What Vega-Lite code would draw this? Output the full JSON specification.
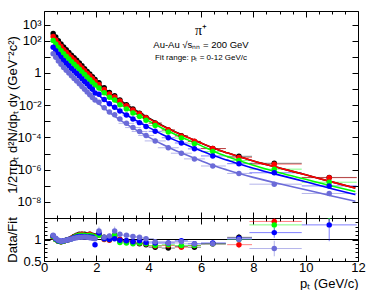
{
"$schema": "https://vega.github.io/schema/vega-lite/v6.json",
"padding": {"left": 6, "top": 10, "right": 14, "bottom": 0},
"spacing": 0,
"bounds": "flush",
"config": {
  "font": "Liberation Sans",
  "view": {"stroke": "#000", "strokeWidth": 1},
  "axis": {"domain": false, "grid": false, "tickColor": "#000", "labelColor": "#000", "titleColor": "#000", "labelFontSize": 13, "titleFontSize": 13, "titleFontWeight": "normal", "labelFont": "Liberation Sans", "titleFont": "Liberation Sans", "tickWidth": 1, "labelFlush": false, "labelOverlap": false}
},
"resolve": {"scale": {"x": "independent", "y": "independent", "color": "independent"}},
"datasets": {
"pts": [
{"s":"c1","pt":0.35,"y":279,"xlo":0.3,"xhi":0.4,"r":1.06,"rlo":1.04,"rhi":1.08},
{"s":"c1","pt":0.45,"y":166,"xlo":0.4,"xhi":0.5,"r":1.0,"rlo":0.98,"rhi":1.02},
{"s":"c1","pt":0.55,"y":100,"xlo":0.5,"xhi":0.6,"r":0.96,"rlo":0.94,"rhi":0.98},
{"s":"c1","pt":0.65,"y":62.8,"xlo":0.6,"xhi":0.7,"r":0.95,"rlo":0.93,"rhi":0.97},
{"s":"c1","pt":0.75,"y":40.0,"xlo":0.7,"xhi":0.8,"r":0.96,"rlo":0.94,"rhi":0.98},
{"s":"c1","pt":0.85,"y":27.0,"xlo":0.8,"xhi":0.9,"r":0.98,"rlo":0.96,"rhi":1.0},
{"s":"c1","pt":0.95,"y":18.2,"xlo":0.9,"xhi":1.0,"r":1.0,"rlo":0.98,"rhi":1.02},
{"s":"c1","pt":1.05,"y":12.5,"xlo":1.0,"xhi":1.1,"r":1.03,"rlo":1.01,"rhi":1.05},
{"s":"c1","pt":1.15,"y":8.74,"xlo":1.1,"xhi":1.2,"r":1.07,"rlo":1.05,"rhi":1.09},
{"s":"c1","pt":1.25,"y":6.04,"xlo":1.2,"xhi":1.3,"r":1.1,"rlo":1.08,"rhi":1.12},
{"s":"c1","pt":1.35,"y":4.10,"xlo":1.3,"xhi":1.4,"r":1.12,"rlo":1.1,"rhi":1.14},
{"s":"c1","pt":1.45,"y":2.74,"xlo":1.4,"xhi":1.5,"r":1.12,"rlo":1.1,"rhi":1.14},
{"s":"c1","pt":1.55,"y":1.84,"xlo":1.5,"xhi":1.6,"r":1.12,"rlo":1.1,"rhi":1.14},
{"s":"c1","pt":1.65,"y":1.23,"xlo":1.6,"xhi":1.7,"r":1.1,"rlo":1.08,"rhi":1.12},
{"s":"c1","pt":1.75,"y":0.849,"xlo":1.7,"xhi":1.8,"r":1.12,"rlo":1.1,"rhi":1.14},
{"s":"c1","pt":1.85,"y":0.577,"xlo":1.8,"xhi":1.9,"r":1.1,"rlo":1.08,"rhi":1.12},
{"s":"c1","pt":1.95,"y":0.392,"xlo":1.9,"xhi":2.0,"r":1.08,"rlo":1.06,"rhi":1.1},
{"s":"c1","pt":2.1,"y":0.245,"xlo":2.0,"xhi":2.2,"r":1.12,"rlo":1.08,"rhi":1.16},
{"s":"c1","pt":2.3,"y":0.120,"xlo":2.2,"xhi":2.4,"r":1.05,"rlo":1.01,"rhi":1.09},
{"s":"c1","pt":2.5,"y":0.0603,"xlo":2.4,"xhi":2.6,"r":1.0,"rlo":0.96,"rhi":1.04},
{"s":"c1","pt":2.7,"y":0.0388,"xlo":2.6,"xhi":2.8,"r":1.1,"rlo":1.06,"rhi":1.14},
{"s":"c1","pt":2.9,"y":0.0207,"xlo":2.8,"xhi":3.0,"r":1.0,"rlo":0.96,"rhi":1.04},
{"s":"c1","pt":3.15,"y":0.01074,"xlo":3.0,"xhi":3.3,"r":0.97,"rlo":0.94,"rhi":1.0},
{"s":"c1","pt":3.4,"y":0.00578,"xlo":3.3,"xhi":3.5,"r":0.95,"rlo":0.92,"rhi":0.98},
{"s":"c1","pt":3.65,"y":0.00309,"xlo":3.5,"xhi":3.8,"r":0.9,"rlo":0.87,"rhi":0.93},
{"s":"c1","pt":3.9,"y":0.00174,"xlo":3.8,"xhi":4.0,"r":0.88,"rlo":0.85,"rhi":0.91},
{"s":"c1","pt":4.25,"y":7.74e-4,"xlo":4.0,"xhi":4.5,"r":0.82,"rlo":0.79,"rhi":0.85},
{"s":"c1","pt":4.75,"y":2.84e-4,"xlo":4.5,"xhi":5.0,"r":0.8,"rlo":0.77,"rhi":0.83},
{"s":"c1","pt":5.25,"y":1.26e-4,"xlo":5.0,"xhi":5.5,"r":0.84,"rlo":0.81,"rhi":0.87},
{"s":"c1","pt":5.75,"y":5.48e-5,"xlo":5.5,"xhi":6.0,"r":0.82,"rlo":0.79,"rhi":0.85},
{"s":"c1","pt":6.45,"y":2.03e-5,"xlo":6.0,"xhi":6.95,"r":0.9,"rlo":0.85,"rhi":0.95},
{"s":"c1","pt":7.45,"y":6.71e-6,"xlo":7.0,"xhi":7.95,"r":1.05,"rlo":0.97,"rhi":1.13},
{"s":"c1","pt":8.8,"y":2.47e-6,"xlo":7.85,"xhi":9.85,"r":1.6,"rlo":1.48,"rhi":1.72},
{"s":"c1","pt":10.9,"y":3.27e-7,"xlo":9.85,"xhi":11.95,"r":1.7,"rlo":1.45,"rhi":1.95},
{"s":"c2","pt":0.35,"y":184,"xlo":0.3,"xhi":0.4,"r":1.06,"rlo":1.04,"rhi":1.08},
{"s":"c2","pt":0.45,"y":111,"xlo":0.4,"xhi":0.5,"r":1.0,"rlo":0.98,"rhi":1.02},
{"s":"c2","pt":0.55,"y":67.8,"xlo":0.5,"xhi":0.6,"r":0.96,"rlo":0.94,"rhi":0.98},
{"s":"c2","pt":0.65,"y":42.9,"xlo":0.6,"xhi":0.7,"r":0.95,"rlo":0.93,"rhi":0.97},
{"s":"c2","pt":0.75,"y":27.5,"xlo":0.7,"xhi":0.8,"r":0.96,"rlo":0.94,"rhi":0.98},
{"s":"c2","pt":0.85,"y":18.8,"xlo":0.8,"xhi":0.9,"r":0.98,"rlo":0.96,"rhi":1.0},
{"s":"c2","pt":0.95,"y":12.8,"xlo":0.9,"xhi":1.0,"r":1.0,"rlo":0.98,"rhi":1.02},
{"s":"c2","pt":1.05,"y":8.89,"xlo":1.0,"xhi":1.1,"r":1.03,"rlo":1.01,"rhi":1.05},
{"s":"c2","pt":1.15,"y":6.22,"xlo":1.1,"xhi":1.2,"r":1.06,"rlo":1.04,"rhi":1.08},
{"s":"c2","pt":1.25,"y":4.36,"xlo":1.2,"xhi":1.3,"r":1.09,"rlo":1.07,"rhi":1.11},
{"s":"c2","pt":1.35,"y":2.99,"xlo":1.3,"xhi":1.4,"r":1.11,"rlo":1.09,"rhi":1.13},
{"s":"c2","pt":1.45,"y":2.04,"xlo":1.4,"xhi":1.5,"r":1.12,"rlo":1.1,"rhi":1.14},
{"s":"c2","pt":1.55,"y":1.36,"xlo":1.5,"xhi":1.6,"r":1.1,"rlo":1.08,"rhi":1.12},
{"s":"c2","pt":1.65,"y":0.935,"xlo":1.6,"xhi":1.7,"r":1.1,"rlo":1.08,"rhi":1.12},
{"s":"c2","pt":1.75,"y":0.655,"xlo":1.7,"xhi":1.8,"r":1.12,"rlo":1.1,"rhi":1.14},
{"s":"c2","pt":1.85,"y":0.446,"xlo":1.8,"xhi":1.9,"r":1.09,"rlo":1.07,"rhi":1.11},
{"s":"c2","pt":1.95,"y":0.306,"xlo":1.9,"xhi":2.0,"r":1.07,"rlo":1.05,"rhi":1.09},
{"s":"c2","pt":2.1,"y":0.193,"xlo":2.0,"xhi":2.2,"r":1.1,"rlo":1.06,"rhi":1.14},
{"s":"c2","pt":2.3,"y":0.0938,"xlo":2.2,"xhi":2.4,"r":1.0,"rlo":0.96,"rhi":1.04},
{"s":"c2","pt":2.5,"y":0.0491,"xlo":2.4,"xhi":2.6,"r":0.98,"rlo":0.94,"rhi":1.02},
{"s":"c2","pt":2.7,"y":0.0323,"xlo":2.6,"xhi":2.8,"r":1.08,"rlo":1.04,"rhi":1.12},
{"s":"c2","pt":2.9,"y":0.0179,"xlo":2.8,"xhi":3.0,"r":1.0,"rlo":0.96,"rhi":1.04},
{"s":"c2","pt":3.15,"y":0.00925,"xlo":3.0,"xhi":3.3,"r":0.95,"rlo":0.92,"rhi":0.98},
{"s":"c2","pt":3.4,"y":0.00506,"xlo":3.3,"xhi":3.5,"r":0.93,"rlo":0.9,"rhi":0.96},
{"s":"c2","pt":3.65,"y":0.00288,"xlo":3.5,"xhi":3.8,"r":0.92,"rlo":0.89,"rhi":0.95},
{"s":"c2","pt":3.9,"y":0.00165,"xlo":3.8,"xhi":4.0,"r":0.9,"rlo":0.87,"rhi":0.93},
{"s":"c2","pt":4.25,"y":7.57e-4,"xlo":4.0,"xhi":4.5,"r":0.85,"rlo":0.82,"rhi":0.88},
{"s":"c2","pt":4.75,"y":2.94e-4,"xlo":4.5,"xhi":5.0,"r":0.86,"rlo":0.83,"rhi":0.89},
{"s":"c2","pt":5.25,"y":1.21e-4,"xlo":5.0,"xhi":5.5,"r":0.82,"rlo":0.79,"rhi":0.85},
{"s":"c2","pt":5.75,"y":5.70e-5,"xlo":5.5,"xhi":6.0,"r":0.86,"rlo":0.83,"rhi":0.89},
{"s":"c2","pt":6.45,"y":2.03e-5,"xlo":6.0,"xhi":6.95,"r":0.9,"rlo":0.85,"rhi":0.95},
{"s":"c2","pt":7.45,"y":5.62e-6,"xlo":7.0,"xhi":7.95,"r":0.88,"rlo":0.8,"rhi":0.96},
{"s":"c2","pt":8.8,"y":2.19e-6,"xlo":7.85,"xhi":9.85,"r":1.42,"rlo":1.3,"rhi":1.54},
{"s":"c2","pt":10.9,"y":3.17e-7,"xlo":9.85,"xhi":11.95,"r":1.65,"rlo":1.4,"rhi":1.9},
{"s":"c3","pt":0.35,"y":102,"xlo":0.3,"xhi":0.4,"r":1.07,"rlo":1.05,"rhi":1.09},
{"s":"c3","pt":0.45,"y":61.1,"xlo":0.4,"xhi":0.5,"r":1.0,"rlo":0.98,"rhi":1.02},
{"s":"c3","pt":0.55,"y":37.5,"xlo":0.5,"xhi":0.6,"r":0.96,"rlo":0.94,"rhi":0.98},
{"s":"c3","pt":0.65,"y":23.8,"xlo":0.6,"xhi":0.7,"r":0.95,"rlo":0.93,"rhi":0.97},
{"s":"c3","pt":0.75,"y":15.4,"xlo":0.7,"xhi":0.8,"r":0.96,"rlo":0.94,"rhi":0.98},
{"s":"c3","pt":0.85,"y":10.5,"xlo":0.8,"xhi":0.9,"r":0.98,"rlo":0.96,"rhi":1.0},
{"s":"c3","pt":0.95,"y":7.19,"xlo":0.9,"xhi":1.0,"r":1.0,"rlo":0.98,"rhi":1.02},
{"s":"c3","pt":1.05,"y":4.97,"xlo":1.0,"xhi":1.1,"r":1.02,"rlo":1.0,"rhi":1.04},
{"s":"c3","pt":1.15,"y":3.49,"xlo":1.1,"xhi":1.2,"r":1.05,"rlo":1.03,"rhi":1.07},
{"s":"c3","pt":1.25,"y":2.45,"xlo":1.2,"xhi":1.3,"r":1.08,"rlo":1.06,"rhi":1.1},
{"s":"c3","pt":1.35,"y":1.69,"xlo":1.3,"xhi":1.4,"r":1.1,"rlo":1.08,"rhi":1.12},
{"s":"c3","pt":1.45,"y":1.15,"xlo":1.4,"xhi":1.5,"r":1.1,"rlo":1.08,"rhi":1.12},
{"s":"c3","pt":1.55,"y":0.785,"xlo":1.5,"xhi":1.6,"r":1.1,"rlo":1.08,"rhi":1.12},
{"s":"c3","pt":1.65,"y":0.537,"xlo":1.6,"xhi":1.7,"r":1.09,"rlo":1.07,"rhi":1.11},
{"s":"c3","pt":1.75,"y":0.374,"xlo":1.7,"xhi":1.8,"r":1.1,"rlo":1.08,"rhi":1.12},
{"s":"c3","pt":1.85,"y":0.258,"xlo":1.8,"xhi":1.9,"r":1.08,"rlo":1.06,"rhi":1.1},
{"s":"c3","pt":1.95,"y":0.178,"xlo":1.9,"xhi":2.0,"r":1.06,"rlo":1.04,"rhi":1.08},
{"s":"c3","pt":2.1,"y":0.115,"xlo":2.0,"xhi":2.2,"r":1.1,"rlo":1.06,"rhi":1.14},
{"s":"c3","pt":2.3,"y":0.0579,"xlo":2.2,"xhi":2.4,"r":1.02,"rlo":0.98,"rhi":1.06},
{"s":"c3","pt":2.5,"y":0.0309,"xlo":2.4,"xhi":2.6,"r":1.0,"rlo":0.96,"rhi":1.04},
{"s":"c3","pt":2.7,"y":0.0207,"xlo":2.6,"xhi":2.8,"r":1.1,"rlo":1.06,"rhi":1.14},
{"s":"c3","pt":2.9,"y":0.0106,"xlo":2.8,"xhi":3.0,"r":0.93,"rlo":0.89,"rhi":0.97},
{"s":"c3","pt":3.15,"y":0.00586,"xlo":3.0,"xhi":3.3,"r":0.92,"rlo":0.89,"rhi":0.95},
{"s":"c3","pt":3.4,"y":0.00328,"xlo":3.3,"xhi":3.5,"r":0.9,"rlo":0.87,"rhi":0.93},
{"s":"c3","pt":3.65,"y":0.00197,"xlo":3.5,"xhi":3.8,"r":0.92,"rlo":0.89,"rhi":0.95},
{"s":"c3","pt":3.9,"y":0.00116,"xlo":3.8,"xhi":4.0,"r":0.9,"rlo":0.87,"rhi":0.93},
{"s":"c3","pt":4.25,"y":5.46e-4,"xlo":4.0,"xhi":4.5,"r":0.86,"rlo":0.83,"rhi":0.89},
{"s":"c3","pt":4.75,"y":2.17e-4,"xlo":4.5,"xhi":5.0,"r":0.88,"rlo":0.85,"rhi":0.91},
{"s":"c3","pt":5.25,"y":9.04e-5,"xlo":5.0,"xhi":5.5,"r":0.86,"rlo":0.83,"rhi":0.89},
{"s":"c3","pt":5.75,"y":3.99e-5,"xlo":5.5,"xhi":6.0,"r":0.86,"rlo":0.83,"rhi":0.89},
{"s":"c3","pt":6.45,"y":1.32e-5,"xlo":6.0,"xhi":6.95,"r":0.9,"rlo":0.85,"rhi":0.95},
{"s":"c3","pt":7.45,"y":3.66e-6,"xlo":7.0,"xhi":7.95,"r":1.0,"rlo":0.92,"rhi":1.08},
{"s":"c3","pt":8.8,"y":1.07e-6,"xlo":7.85,"xhi":9.85,"r":1.34,"rlo":1.22,"rhi":1.46},
{"s":"c3","pt":10.9,"y":1.66e-7,"xlo":9.85,"xhi":11.95,"r":1.55,"rlo":1.3,"rhi":1.8},
{"s":"c4","pt":0.35,"y":39.5,"xlo":0.3,"xhi":0.4,"r":1.09,"rlo":1.07,"rhi":1.11},
{"s":"c4","pt":0.45,"y":23.7,"xlo":0.4,"xhi":0.5,"r":1.02,"rlo":1.0,"rhi":1.04},
{"s":"c4","pt":0.55,"y":14.4,"xlo":0.5,"xhi":0.6,"r":0.97,"rlo":0.95,"rhi":0.99},
{"s":"c4","pt":0.65,"y":9.12,"xlo":0.6,"xhi":0.7,"r":0.96,"rlo":0.94,"rhi":0.98},
{"s":"c4","pt":0.75,"y":5.92,"xlo":0.7,"xhi":0.8,"r":0.97,"rlo":0.95,"rhi":0.99},
{"s":"c4","pt":0.85,"y":4.0,"xlo":0.8,"xhi":0.9,"r":0.98,"rlo":0.96,"rhi":1.0},
{"s":"c4","pt":0.95,"y":2.74,"xlo":0.9,"xhi":1.0,"r":1.0,"rlo":0.98,"rhi":1.02},
{"s":"c4","pt":1.05,"y":1.89,"xlo":1.0,"xhi":1.1,"r":1.02,"rlo":1.0,"rhi":1.04},
{"s":"c4","pt":1.15,"y":1.32,"xlo":1.1,"xhi":1.2,"r":1.04,"rlo":1.02,"rhi":1.06},
{"s":"c4","pt":1.25,"y":0.923,"xlo":1.2,"xhi":1.3,"r":1.06,"rlo":1.04,"rhi":1.08},
{"s":"c4","pt":1.35,"y":0.632,"xlo":1.3,"xhi":1.4,"r":1.07,"rlo":1.05,"rhi":1.09},
{"s":"c4","pt":1.45,"y":0.43,"xlo":1.4,"xhi":1.5,"r":1.07,"rlo":1.05,"rhi":1.09},
{"s":"c4","pt":1.55,"y":0.294,"xlo":1.5,"xhi":1.6,"r":1.07,"rlo":1.05,"rhi":1.09},
{"s":"c4","pt":1.65,"y":0.202,"xlo":1.6,"xhi":1.7,"r":1.06,"rlo":1.04,"rhi":1.08},
{"s":"c4","pt":1.75,"y":0.14,"xlo":1.7,"xhi":1.8,"r":1.06,"rlo":1.04,"rhi":1.08},
{"s":"c4","pt":1.85,"y":0.0975,"xlo":1.8,"xhi":1.9,"r":1.05,"rlo":1.03,"rhi":1.07},
{"s":"c4","pt":1.95,"y":0.0575,"xlo":1.9,"xhi":2.0,"r":0.88,"rlo":0.86,"rhi":0.9},
{"s":"c4","pt":2.1,"y":0.0467,"xlo":2.0,"xhi":2.2,"r":1.15,"rlo":1.11,"rhi":1.19},
{"s":"c4","pt":2.3,"y":0.0225,"xlo":2.2,"xhi":2.4,"r":1.02,"rlo":0.98,"rhi":1.06},
{"s":"c4","pt":2.5,"y":0.012,"xlo":2.4,"xhi":2.6,"r":1.0,"rlo":0.96,"rhi":1.04},
{"s":"c4","pt":2.7,"y":0.00746,"xlo":2.6,"xhi":2.8,"r":1.02,"rlo":0.98,"rhi":1.06},
{"s":"c4","pt":2.9,"y":0.00436,"xlo":2.8,"xhi":3.0,"r":0.98,"rlo":0.94,"rhi":1.02},
{"s":"c4","pt":3.15,"y":0.00242,"xlo":3.0,"xhi":3.3,"r":0.97,"rlo":0.94,"rhi":1.0},
{"s":"c4","pt":3.4,"y":0.00136,"xlo":3.3,"xhi":3.5,"r":0.95,"rlo":0.92,"rhi":0.98},
{"s":"c4","pt":3.65,"y":8.22e-4,"xlo":3.5,"xhi":3.8,"r":0.97,"rlo":0.94,"rhi":1.0},
{"s":"c4","pt":3.9,"y":4.74e-4,"xlo":3.8,"xhi":4.0,"r":0.93,"rlo":0.9,"rhi":0.96},
{"s":"c4","pt":4.25,"y":2.37e-4,"xlo":4.0,"xhi":4.5,"r":0.92,"rlo":0.89,"rhi":0.95},
{"s":"c4","pt":4.75,"y":9.53e-5,"xlo":4.5,"xhi":5.0,"r":0.92,"rlo":0.89,"rhi":0.95},
{"s":"c4","pt":5.25,"y":4.49e-5,"xlo":5.0,"xhi":5.5,"r":0.97,"rlo":0.94,"rhi":1.0},
{"s":"c4","pt":5.75,"y":1.95e-5,"xlo":5.5,"xhi":6.0,"r":0.9,"rlo":0.87,"rhi":0.93},
{"s":"c4","pt":6.45,"y":7.08e-6,"xlo":6.0,"xhi":6.95,"r":0.92,"rlo":0.87,"rhi":0.97},
{"s":"c4","pt":7.45,"y":2.34e-6,"xlo":7.0,"xhi":7.95,"r":1.03,"rlo":0.95,"rhi":1.11},
{"s":"c4","pt":8.8,"y":6.38e-7,"xlo":7.85,"xhi":9.85,"r":1.16,"rlo":1.04,"rhi":1.28},
{"s":"c4","pt":10.9,"y":9.77e-8,"xlo":9.85,"xhi":11.95,"r":1.34,"rlo":0.96,"rhi":1.72},
{"s":"c5","pt":0.35,"y":15.5,"xlo":0.3,"xhi":0.4,"r":1.1,"rlo":1.08,"rhi":1.12},
{"s":"c5","pt":0.45,"y":9.18,"xlo":0.4,"xhi":0.5,"r":1.03,"rlo":1.01,"rhi":1.05},
{"s":"c5","pt":0.55,"y":5.51,"xlo":0.5,"xhi":0.6,"r":0.98,"rlo":0.96,"rhi":1.0},
{"s":"c5","pt":0.65,"y":3.40,"xlo":0.6,"xhi":0.7,"r":0.96,"rlo":0.94,"rhi":0.98},
{"s":"c5","pt":0.75,"y":2.17,"xlo":0.7,"xhi":0.8,"r":0.97,"rlo":0.95,"rhi":0.99},
{"s":"c5","pt":0.85,"y":1.45,"xlo":0.8,"xhi":0.9,"r":0.98,"rlo":0.96,"rhi":1.0},
{"s":"c5","pt":0.95,"y":0.977,"xlo":0.9,"xhi":1.0,"r":1.0,"rlo":0.98,"rhi":1.02},
{"s":"c5","pt":1.05,"y":0.659,"xlo":1.0,"xhi":1.1,"r":1.01,"rlo":0.99,"rhi":1.03},
{"s":"c5","pt":1.15,"y":0.455,"xlo":1.1,"xhi":1.2,"r":1.03,"rlo":1.01,"rhi":1.05},
{"s":"c5","pt":1.25,"y":0.31,"xlo":1.2,"xhi":1.3,"r":1.04,"rlo":1.02,"rhi":1.06},
{"s":"c5","pt":1.35,"y":0.21,"xlo":1.3,"xhi":1.4,"r":1.05,"rlo":1.03,"rhi":1.07},
{"s":"c5","pt":1.45,"y":0.141,"xlo":1.4,"xhi":1.5,"r":1.05,"rlo":1.03,"rhi":1.07},
{"s":"c5","pt":1.55,"y":0.0959,"xlo":1.5,"xhi":1.6,"r":1.06,"rlo":1.04,"rhi":1.08},
{"s":"c5","pt":1.65,"y":0.0649,"xlo":1.6,"xhi":1.7,"r":1.05,"rlo":1.03,"rhi":1.07},
{"s":"c5","pt":1.75,"y":0.0439,"xlo":1.7,"xhi":1.8,"r":1.04,"rlo":1.02,"rhi":1.06},
{"s":"c5","pt":1.85,"y":0.0302,"xlo":1.8,"xhi":1.9,"r":1.03,"rlo":1.01,"rhi":1.05},
{"s":"c5","pt":1.95,"y":0.0208,"xlo":1.9,"xhi":2.0,"r":1.02,"rlo":1.0,"rhi":1.04},
{"s":"c5","pt":2.1,"y":0.0149,"xlo":2.0,"xhi":2.2,"r":1.2,"rlo":1.1,"rhi":1.3},
{"s":"c5","pt":2.3,"y":0.00692,"xlo":2.2,"xhi":2.4,"r":1.05,"rlo":0.99,"rhi":1.11},
{"s":"c5","pt":2.5,"y":0.00378,"xlo":2.4,"xhi":2.6,"r":1.08,"rlo":1.02,"rhi":1.14},
{"s":"c5","pt":2.7,"y":0.0025,"xlo":2.6,"xhi":2.8,"r":1.2,"rlo":1.1,"rhi":1.3},
{"s":"c5","pt":2.9,"y":0.00139,"xlo":2.8,"xhi":3.0,"r":1.12,"rlo":1.06,"rhi":1.18},
{"s":"c5","pt":3.15,"y":7.43e-4,"xlo":2.85,"xhi":3.45,"r":1.1,"rlo":1.05,"rhi":1.15},
{"s":"c5","pt":3.4,"y":4.06e-4,"xlo":3.1,"xhi":3.7,"r":1.07,"rlo":1.02,"rhi":1.12},
{"s":"c5","pt":3.65,"y":2.31e-4,"xlo":3.35,"xhi":3.95,"r":1.05,"rlo":1.0,"rhi":1.1},
{"s":"c5","pt":3.9,"y":1.32e-4,"xlo":3.6,"xhi":4.2,"r":1.02,"rlo":0.97,"rhi":1.07},
{"s":"c5","pt":4.25,"y":6.04e-5,"xlo":3.85,"xhi":4.65,"r":0.95,"rlo":0.9,"rhi":1.0},
{"s":"c5","pt":4.75,"y":2.28e-5,"xlo":4.35,"xhi":5.15,"r":0.92,"rlo":0.87,"rhi":0.97},
{"s":"c5","pt":5.25,"y":1.04e-5,"xlo":4.85,"xhi":5.65,"r":0.95,"rlo":0.9,"rhi":1.0},
{"s":"c5","pt":5.75,"y":4.63e-6,"xlo":5.35,"xhi":6.15,"r":0.9,"rlo":0.85,"rhi":0.95},
{"s":"c5","pt":6.45,"y":1.68e-6,"xlo":6.0,"xhi":6.95,"r":0.9,"rlo":0.85,"rhi":0.95},
{"s":"c5","pt":7.45,"y":5.81e-7,"xlo":7.0,"xhi":7.95,"r":1.0,"rlo":0.92,"rhi":1.08},
{"s":"c5","pt":8.8,"y":1.25e-7,"xlo":7.85,"xhi":9.85,"r":0.79,"rlo":0.61,"rhi":0.97},
{"s":"c5","pt":10.9,"y":3.33e-8,"xlo":9.85,"xhi":11.95,"r":1.58,"rlo":1.33,"rhi":1.83}
],
"fit": [
{"s":"c1","pt":0.35,"y":263},{"s":"c1","pt":0.5,"y":132},{"s":"c1","pt":0.75,"y":41.7},{"s":"c1","pt":1,"y":14.8},{"s":"c1","pt":1.25,"y":5.5},{"s":"c1","pt":1.5,"y":2.0},{"s":"c1","pt":1.75,"y":0.759},{"s":"c1","pt":2,"y":0.302},{"s":"c1","pt":2.5,"y":0.0603},{"s":"c1","pt":3,"y":0.0158},{"s":"c1","pt":3.5,"y":4.79e-3},{"s":"c1","pt":4,"y":1.58e-3},{"s":"c1","pt":4.5,"y":5.62e-4},{"s":"c1","pt":5,"y":2.24e-4},{"s":"c1","pt":5.5,"y":1.0e-4},{"s":"c1","pt":6,"y":4.47e-5},{"s":"c1","pt":6.5,"y":2.09e-5},{"s":"c1","pt":7,"y":1.10e-5},{"s":"c1","pt":7.5,"y":6.03e-6},{"s":"c1","pt":8,"y":3.47e-6},{"s":"c1","pt":9,"y":1.26e-6},{"s":"c1","pt":10,"y":4.79e-7},{"s":"c1","pt":11,"y":1.74e-7},{"s":"c1","pt":11.9,"y":7.24e-8},
{"s":"c2","pt":0.35,"y":174},{"s":"c2","pt":0.5,"y":88.5},{"s":"c2","pt":0.75,"y":28.7},{"s":"c2","pt":1,"y":10.5},{"s":"c2","pt":1.25,"y":4.0},{"s":"c2","pt":1.5,"y":1.5},{"s":"c2","pt":1.75,"y":0.585},{"s":"c2","pt":2,"y":0.24},{"s":"c2","pt":2.5,"y":0.0501},{"s":"c2","pt":3,"y":0.0138},{"s":"c2","pt":3.5,"y":4.32e-3},{"s":"c2","pt":4,"y":1.48e-3},{"s":"c2","pt":4.5,"y":5.37e-4},{"s":"c2","pt":5,"y":2.19e-4},{"s":"c2","pt":5.5,"y":9.89e-5},{"s":"c2","pt":6,"y":4.47e-5},{"s":"c2","pt":6.5,"y":2.09e-5},{"s":"c2","pt":7,"y":1.10e-5},{"s":"c2","pt":7.5,"y":6.03e-6},{"s":"c2","pt":8,"y":3.47e-6},{"s":"c2","pt":9,"y":1.26e-6},{"s":"c2","pt":10,"y":4.79e-7},{"s":"c2","pt":11,"y":1.74e-7},{"s":"c2","pt":11.9,"y":7.24e-8},
{"s":"c3","pt":0.35,"y":95.5},{"s":"c3","pt":0.5,"y":48.9},{"s":"c3","pt":0.75,"y":16.0},{"s":"c3","pt":1,"y":5.89},{"s":"c3","pt":1.25,"y":2.28},{"s":"c3","pt":1.5,"y":0.861},{"s":"c3","pt":1.75,"y":0.34},{"s":"c3","pt":2,"y":0.141},{"s":"c3","pt":2.5,"y":0.0309},{"s":"c3","pt":3,"y":8.91e-3},{"s":"c3","pt":3.5,"y":2.92e-3},{"s":"c3","pt":4,"y":1.05e-3},{"s":"c3","pt":4.5,"y":3.85e-4},{"s":"c3","pt":5,"y":1.58e-4},{"s":"c3","pt":5.5,"y":7.0e-5},{"s":"c3","pt":6,"y":3.09e-5},{"s":"c3","pt":6.5,"y":1.35e-5},{"s":"c3","pt":7,"y":6.61e-6},{"s":"c3","pt":7.5,"y":3.43e-6},{"s":"c3","pt":8,"y":1.86e-6},{"s":"c3","pt":9,"y":6.46e-7},{"s":"c3","pt":10,"y":2.51e-7},{"s":"c3","pt":11,"y":9.77e-8},{"s":"c3","pt":11.9,"y":4.37e-8},
{"s":"c4","pt":0.35,"y":36.3},{"s":"c4","pt":0.5,"y":18.6},{"s":"c4","pt":0.75,"y":6.1},{"s":"c4","pt":1,"y":2.24},{"s":"c4","pt":1.25,"y":0.871},{"s":"c4","pt":1.5,"y":0.331},{"s":"c4","pt":1.75,"y":0.132},{"s":"c4","pt":2,"y":0.055},{"s":"c4","pt":2.5,"y":0.012},{"s":"c4","pt":3,"y":3.47e-3},{"s":"c4","pt":3.5,"y":1.15e-3},{"s":"c4","pt":4,"y":4.17e-4},{"s":"c4","pt":4.5,"y":1.58e-4},{"s":"c4","pt":5,"y":6.76e-5},{"s":"c4","pt":5.5,"y":3.16e-5},{"s":"c4","pt":6,"y":1.48e-5},{"s":"c4","pt":6.5,"y":7.16e-6},{"s":"c4","pt":7,"y":3.89e-6},{"s":"c4","pt":7.5,"y":2.14e-6},{"s":"c4","pt":8,"y":1.23e-6},{"s":"c4","pt":9,"y":4.57e-7},{"s":"c4","pt":10,"y":1.78e-7},{"s":"c4","pt":11,"y":6.61e-8},{"s":"c4","pt":11.9,"y":2.82e-8},
{"s":"c5","pt":0.35,"y":14.1},{"s":"c5","pt":0.5,"y":7.08},{"s":"c5","pt":0.75,"y":2.24},{"s":"c5","pt":1,"y":0.794},{"s":"c5","pt":1.25,"y":0.299},{"s":"c5","pt":1.5,"y":0.11},{"s":"c5","pt":1.75,"y":0.0422},{"s":"c5","pt":2,"y":0.017},{"s":"c5","pt":2.5,"y":3.51e-3},{"s":"c5","pt":3,"y":9.55e-4},{"s":"c5","pt":3.5,"y":3.02e-4},{"s":"c5","pt":4,"y":1.05e-4},{"s":"c5","pt":4.5,"y":3.85e-5},{"s":"c5","pt":5,"y":1.58e-5},{"s":"c5","pt":5.5,"y":7.5e-6},{"s":"c5","pt":6,"y":3.55e-6},{"s":"c5","pt":6.5,"y":1.74e-6},{"s":"c5","pt":7,"y":9.55e-7},{"s":"c5","pt":7.5,"y":5.5e-7},{"s":"c5","pt":8,"y":3.31e-7},{"s":"c5","pt":9,"y":1.32e-7},{"s":"c5","pt":10,"y":5.62e-8},{"s":"c5","pt":11,"y":2.34e-8},{"s":"c5","pt":11.9,"y":1.1e-8}
]
},
"vconcat": [
{
  "width": 314, "height": 207,
  "resolve": {"axis": {"x": "independent", "y": "independent"}},
  "layer": [
    {
      "data": {"name": "pts"},
      "mark": {"type": "rule", "strokeWidth": 1, "opacity": 0.5, "clip": true},
      "encoding": {
        "x": {"field": "xlo", "type": "quantitative", "scale": {"domain": [0, 12], "nice": false, "zero": false},
              "axis": {"orient": "top", "values": [0,0.5,1,1.5,2,2.5,3,3.5,4,4.5,5,5.5,6,6.5,7,7.5,8,8.5,9,9.5,10,10.5,11,11.5,12], "labels": false, "title": null, "tickSize": {"condition": {"test": "datum.value % 2 === 0", "value": -6}, "value": -3}}},
        "x2": {"field": "xhi"},
        "y": {"field": "y", "type": "quantitative", "scale": {"type": "log", "domain": [1e-9, 6900], "nice": false},
              "axis": {"orient": "right", "values": [1e-8,1e-7,1e-6,1e-5,1e-4,1e-3,0.01,0.1,1,10,100,1000], "labels": false, "title": null, "tickSize": -6}},
        "color": {"field": "s", "type": "nominal", "scale": {"domain": ["c1","c2","c3","c4","c5"], "range": ["#000000","#ff0000","#00ff00","#0000ff","#6b6bd8"]}, "legend": null}
      }
    },
    {
      "data": {"name": "fit"},
      "mark": {"type": "line", "strokeWidth": 1.6, "interpolate": "monotone", "clip": true},
      "encoding": {
        "x": {"field": "pt", "type": "quantitative", "axis": null},
        "y": {"field": "y", "type": "quantitative", "axis": null},
        "color": {"field": "s", "type": "nominal", "legend": null}
      }
    },
    {
      "data": {"name": "pts"},
      "mark": {"type": "circle", "size": 30, "opacity": 1, "clip": true},
      "encoding": {
        "x": {"field": "pt", "type": "quantitative",
              "axis": {"orient": "bottom", "values": [0,0.5,1,1.5,2,2.5,3,3.5,4,4.5,5,5.5,6,6.5,7,7.5,8,8.5,9,9.5,10,10.5,11,11.5,12], "labels": false, "title": null, "tickSize": {"condition": {"test": "datum.value % 2 === 0", "value": -6}, "value": -3}}},
        "y": {"field": "y", "type": "quantitative",
              "axis": {"orient": "left", "values": [1e-8,1e-7,1e-6,1e-5,1e-4,1e-3,0.01,0.1,1,10,100,1000], "tickSize": -6, "labelPadding": 9,
                       "labelExpr": "datum.value > 500 ? '10³' : datum.value > 50 ? '10²' : (datum.value > 0.5 && datum.value < 2) ? '1' : (datum.value > 0.005 && datum.value < 0.02) ? '10⁻²' : (datum.value > 5e-5 && datum.value < 2e-4) ? '10⁻⁴' : (datum.value > 5e-7 && datum.value < 2e-6) ? '10⁻⁶' : (datum.value > 5e-9 && datum.value < 2e-8) ? '10⁻⁸' : ''",
                       "title": "1/2πpₜ d²N/dpₜ dy (GeV⁻²c²)", "titlePadding": -3}},
        "color": {"field": "s", "type": "nominal", "legend": null}
      }
    },
    {
      "data": {"values": [{"note": "π⁺"}]},
      "mark": {"type": "text", "font": "Liberation Serif", "fontSize": 14, "align": "center", "baseline": "middle", "color": "#000"},
      "encoding": {"text": {"field": "note"}, "x": {"datum": 6, "type": "quantitative", "axis": null}, "y": {"datum": 400, "type": "quantitative", "axis": null}}
    },
    {
      "data": {"values": [{"note": "Au-Au √sₙₙ = 200 GeV"}]},
      "mark": {"type": "text", "fontSize": 9.5, "align": "center", "baseline": "middle", "color": "#000"},
      "encoding": {"text": {"field": "note"}, "x": {"datum": 6, "type": "quantitative", "axis": null}, "y": {"datum": 51, "type": "quantitative", "axis": null}}
    },
    {
      "data": {"values": [{"note": "Fit range: pₜ = 0-12 GeV/c"}]},
      "mark": {"type": "text", "fontSize": 8, "align": "center", "baseline": "middle", "color": "#000"},
      "encoding": {"text": {"field": "note"}, "x": {"datum": 6, "type": "quantitative", "axis": null}, "y": {"datum": 8.7, "type": "quantitative", "axis": null}}
    }
  ]
},
{
  "width": 314, "height": 43,
  "resolve": {"axis": {"x": "independent", "y": "independent"}},
  "layer": [
    {
      "data": {"values": [{"ref": 1}]},
      "mark": {"type": "rule", "color": "#000", "strokeWidth": 1},
      "encoding": {"y": {"field": "ref", "type": "quantitative", "scale": {"domain": [0.5, 1.5], "nice": false, "zero": false}, "axis": null}}
    },
    {
      "data": {"name": "pts"},
      "mark": {"type": "rule", "strokeWidth": 1, "opacity": 0.5, "clip": true},
      "encoding": {
        "x": {"field": "xlo", "type": "quantitative", "scale": {"domain": [0, 12], "nice": false, "zero": false},
              "axis": {"orient": "top", "values": [0,0.5,1,1.5,2,2.5,3,3.5,4,4.5,5,5.5,6,6.5,7,7.5,8,8.5,9,9.5,10,10.5,11,11.5,12], "labels": false, "title": null, "tickSize": {"condition": {"test": "datum.value % 2 === 0", "value": -6}, "value": -3}}},
        "x2": {"field": "xhi"},
        "y": {"field": "r", "type": "quantitative",
              "axis": {"orient": "right", "values": [0.5,0.6,0.7,0.8,0.9,1,1.1,1.2,1.3,1.4,1.5], "labels": false, "title": null, "tickSize": {"condition": {"test": "abs(datum.value*2 - round(datum.value*2)) < 0.01", "value": -6}, "value": -3}}},
        "color": {"field": "s", "type": "nominal", "scale": {"domain": ["c1","c2","c3","c4","c5"], "range": ["#000000","#ff0000","#00ff00","#0000ff","#6b6bd8"]}, "legend": null}
      }
    },
    {
      "data": {"name": "pts"},
      "mark": {"type": "rule", "strokeWidth": 1, "opacity": 0.5, "clip": true},
      "encoding": {
        "x": {"field": "pt", "type": "quantitative", "axis": null},
        "y": {"field": "rlo", "type": "quantitative", "axis": null},
        "y2": {"field": "rhi"},
        "color": {"field": "s", "type": "nominal", "legend": null}
      }
    },
    {
      "data": {"name": "pts"},
      "mark": {"type": "circle", "size": 30, "opacity": 1, "clip": true},
      "encoding": {
        "x": {"field": "pt", "type": "quantitative",
              "axis": {"orient": "bottom", "values": [0,0.5,1,1.5,2,2.5,3,3.5,4,4.5,5,5.5,6,6.5,7,7.5,8,8.5,9,9.5,10,10.5,11,11.5,12], "labelExpr": "datum.value % 2 === 0 ? format(datum.value, 'd') : ''", "labelPadding": 6, "tickSize": {"condition": {"test": "datum.value % 2 === 0", "value": -6}, "value": -3}, "title": "pₜ (GeV/c)", "titleAnchor": "end", "titlePadding": 0}},
        "y": {"field": "r", "type": "quantitative",
              "axis": {"orient": "left", "values": [0.5,0.6,0.7,0.8,0.9,1,1.1,1.2,1.3,1.4,1.5], "labelExpr": "datum.value == 0.5 ? '0.5' : (abs(datum.value - 1) < 0.001 ? '1' : '')", "labelPadding": 9, "tickSize": {"condition": {"test": "abs(datum.value*2 - round(datum.value*2)) < 0.01", "value": -6}, "value": -3}, "title": "Data/Fit", "titlePadding": 3}},
        "color": {"field": "s", "type": "nominal", "legend": null}
      }
    }
  ]
}
]
}
